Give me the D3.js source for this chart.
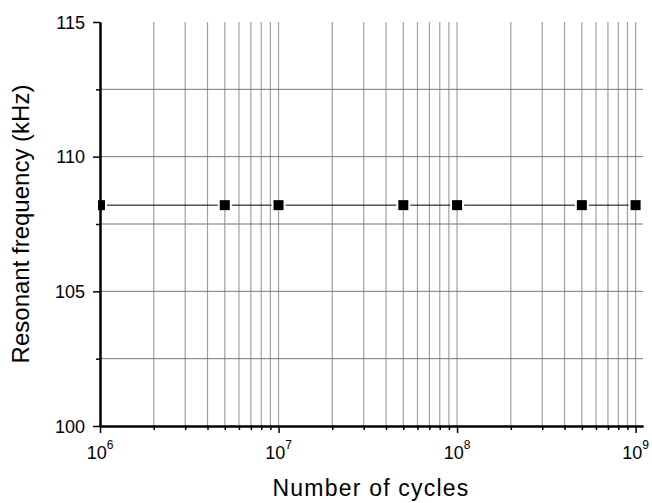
<!DOCTYPE html>
<html>
<head>
<meta charset="utf-8">
<script src="https://cdn.jsdelivr.net/npm/d3@7"></script>
<style>
    body { margin: 0; background: #fff; }
    svg text { font-family: "Liberation Sans", Arial, sans-serif; fill: #000; }
</style>
</head>
<body>
<div id="container"></div>
<script>
const width = 652;
const height = 503;
const margin = { left: 100, right: 9, top: 22, bottom: 77 };

// data
const cycles = [1e6, 5e6, 1e7, 5e7, 1e8, 5e8, 1e9];
const freq = [108.2, 108.2, 108.2, 108.2, 108.2, 108.2, 108.2];
const yMajor = [100, 105, 110, 115];
const yMinor = [102.5, 107.5, 112.5];
const xMajor = [1e6, 1e7, 1e8, 1e9];
const xExp = ["6", "7", "8", "9"];

const xMinor = [];
[1e6, 1e7, 1e8].forEach((d) => {
    for (let k = 2; k <= 9; k++) xMinor.push(d * k);
});

const x = d3.scaleLog()
    .domain([1e6, 1.1e9])
    .range([margin.left, width - margin.right]);
const y = d3.scaleLinear()
    .domain([100, 115])
    .range([height - margin.bottom, margin.top]);

const svg = d3.select("#container")
    .append("svg")
    .attr("width", width)
    .attr("height", height);

// grid
svg.append("g")
    .selectAll("line")
    .data(xMinor.concat(xMajor.slice(1)))
    .enter()
    .append("line")
    .attr("x1", (d) => x(d))
    .attr("x2", (d) => x(d))
    .attr("y1", y(115))
    .attr("y2", y(100))
    .style("stroke", "#a0a0a0")
    .style("stroke-width", 1.2);
svg.append("g")
    .selectAll("line")
    .data(yMajor.slice(1, 3).concat(yMinor))
    .enter()
    .append("line")
    .attr("x1", x.range()[0])
    .attr("x2", x.range()[1])
    .attr("y1", (d) => y(d))
    .attr("y2", (d) => y(d))
    .style("stroke", "#777")
    .style("stroke-width", 1);

// axes
const xAxisMinor = d3.axisBottom(x).tickValues(xMinor).tickSize(4).tickSizeOuter(0).tickFormat("");
const xAxis = d3.axisBottom(x).tickValues(xMajor).tickSize(7).tickSizeOuter(0).tickFormat("");
const yAxisMinor = d3.axisLeft(y).tickValues(yMinor).tickSize(4).tickSizeOuter(0).tickFormat("");
const yAxis = d3.axisLeft(y).tickValues(yMajor).tickSize(7).tickSizeOuter(0).tickFormat(d3.format("d"));

const gx = svg.append("g").attr("transform", `translate(0,${y(100)})`);
gx.append("g").call(xAxisMinor);
gx.append("g").call(xAxis);
const gy = svg.append("g").attr("transform", `translate(${x(1e6)},0)`);
gy.append("g").call(yAxisMinor);
gy.append("g").call(yAxis);

svg.selectAll(".domain").style("stroke", "#000").style("stroke-width", 2);
svg.selectAll(".tick line").style("stroke", "#000").style("stroke-width", 1.5);
gy.selectAll("text")
    .style("font-size", "18px")
    .attr("x", -15)
    .attr("dy", "0.34em");

const xl = gx.append("g")
    .selectAll("text")
    .data(xMajor)
    .enter()
    .append("text")
    .attr("x", (d) => x(d))
    .attr("y", 33)
    .attr("text-anchor", "middle")
    .style("font-size", "18px");
xl.append("tspan").text("10");
xl.append("tspan")
    .attr("dy", -10)
    .style("font-size", "12px")
    .text((d, i) => xExp[i]);

// series
const pts = cycles.map((c, i) => [x(c), y(freq[i])]);
const gap = 7;
svg.append("defs").append("clipPath")
    .attr("id", "clip")
    .append("rect")
    .attr("x", x(1e6) - 2)
    .attr("y", 0)
    .attr("width", width)
    .attr("height", height);
const series = svg.append("g").attr("clip-path", "url(#clip)");
series.selectAll("line")
    .data(d3.pairs(pts))
    .enter()
    .append("line")
    .attr("x1", (d) => d[0][0] + gap)
    .attr("y1", (d) => d[0][1])
    .attr("x2", (d) => d[1][0] - gap)
    .attr("y2", (d) => d[1][1])
    .style("stroke", "#000")
    .style("stroke-width", 1);
series.selectAll("rect")
    .data(pts)
    .enter()
    .append("rect")
    .attr("x", (d) => d[0] - 5)
    .attr("y", (d) => d[1] - 5)
    .attr("width", 10)
    .attr("height", 10)
    .style("fill", "#000");

// titles
svg.append("text")
    .attr("x", 371)
    .attr("y", 496)
    .attr("text-anchor", "middle")
    .style("font-size", "23px")
    .style("letter-spacing", "1.2px")
    .text("Number of cycles");
svg.append("text")
    .attr("transform", `translate(29,224) rotate(-90)`)
    .attr("text-anchor", "middle")
    .style("font-size", "24px")
    .text("Resonant frequency (kHz)");
</script>
</body>
</html>
